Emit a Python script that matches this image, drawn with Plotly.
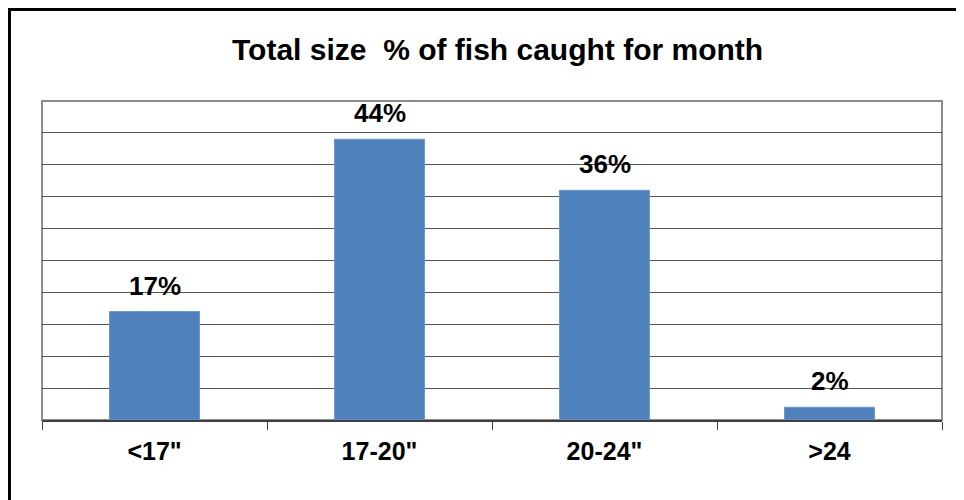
import plotly.graph_objects as go

categories = ['<17"', '17-20"', '20-24"', '>24']
percent_values = [17, 44, 36, 2]
y_ticks = [0, 5, 10, 15, 20, 25, 30, 35, 40, 45, 50]
title_text = "Total size  % of fish caught for month"

FONT = "Arial, 'Liberation Sans', sans-serif"
W, H = 964, 500
OFF = 8  # page body margin
L, R, T, B = 42 - OFF, W - (942 - OFF), 101 - OFF, H - (420 - OFF)
pw, ph = W - L - R, H - T - B

def px_x(p):
    return (p - OFF - L) / pw

def px_y(p):
    return (H - B - (p - OFF)) / ph

fig = go.Figure()
fig.add_trace(go.Bar(
    x=categories, y=percent_values,
    marker=dict(color="#4F81BD", line=dict(color="#6f97c8", width=1)),
    hoverinfo="skip",
))

annotations = []
for c, v in zip(categories, percent_values):
    annotations.append(dict(
        x=c, y=v, xref="x", yref="y", text=f"{v}%", showarrow=False,
        yanchor="bottom", yshift=9,
        font=dict(family=FONT, size=26, color="black", weight="bold"),
    ))
annotations.append(dict(
    x=px_x(497), y=px_y(49), xref="paper", yref="paper", text=title_text,
    showarrow=False, xanchor="center", yanchor="middle",
    font=dict(family=FONT, size=30, color="black", weight="bold"),
))

shapes = [
    dict(type="rect", xref="paper", yref="paper", x0=0, x1=1, y0=0, y1=1,
         line=dict(color="#8c8c8c", width=2), layer="below"),
    dict(type="line", xref="paper", yref="paper",
         x0=px_x(6), x1=px_x(1100), y0=px_y(9), y1=px_y(9),
         line=dict(color="black", width=4)),
    dict(type="line", xref="paper", yref="paper",
         x0=px_x(9), x1=px_x(9), y0=px_y(6), y1=px_y(700),
         line=dict(color="black", width=4)),
]

fig.update_layout(
    width=W, height=H,
    margin=dict(l=L, r=R, t=T, b=B, autoexpand=False),
    paper_bgcolor="white", plot_bgcolor="white",
    showlegend=False, bargap=0.6,
    annotations=annotations, shapes=shapes,
)
fig.update_xaxes(
    type="category", tickson="boundaries", ticks="outside", ticklen=8,
    tickcolor="#404040", tickwidth=1,
    showline=True, linecolor="#404040", linewidth=2,
    showgrid=False,
    tickfont=dict(family=FONT, size=25, color="black", weight="bold"),
    ticklabelstandoff=8,
)
fig.update_yaxes(
    range=[0, 50], tickvals=y_ticks, showticklabels=False,
    showgrid=True, gridcolor="#555555", gridwidth=1,
    zeroline=False, showline=False,
)

fig.write_html("out.html")
